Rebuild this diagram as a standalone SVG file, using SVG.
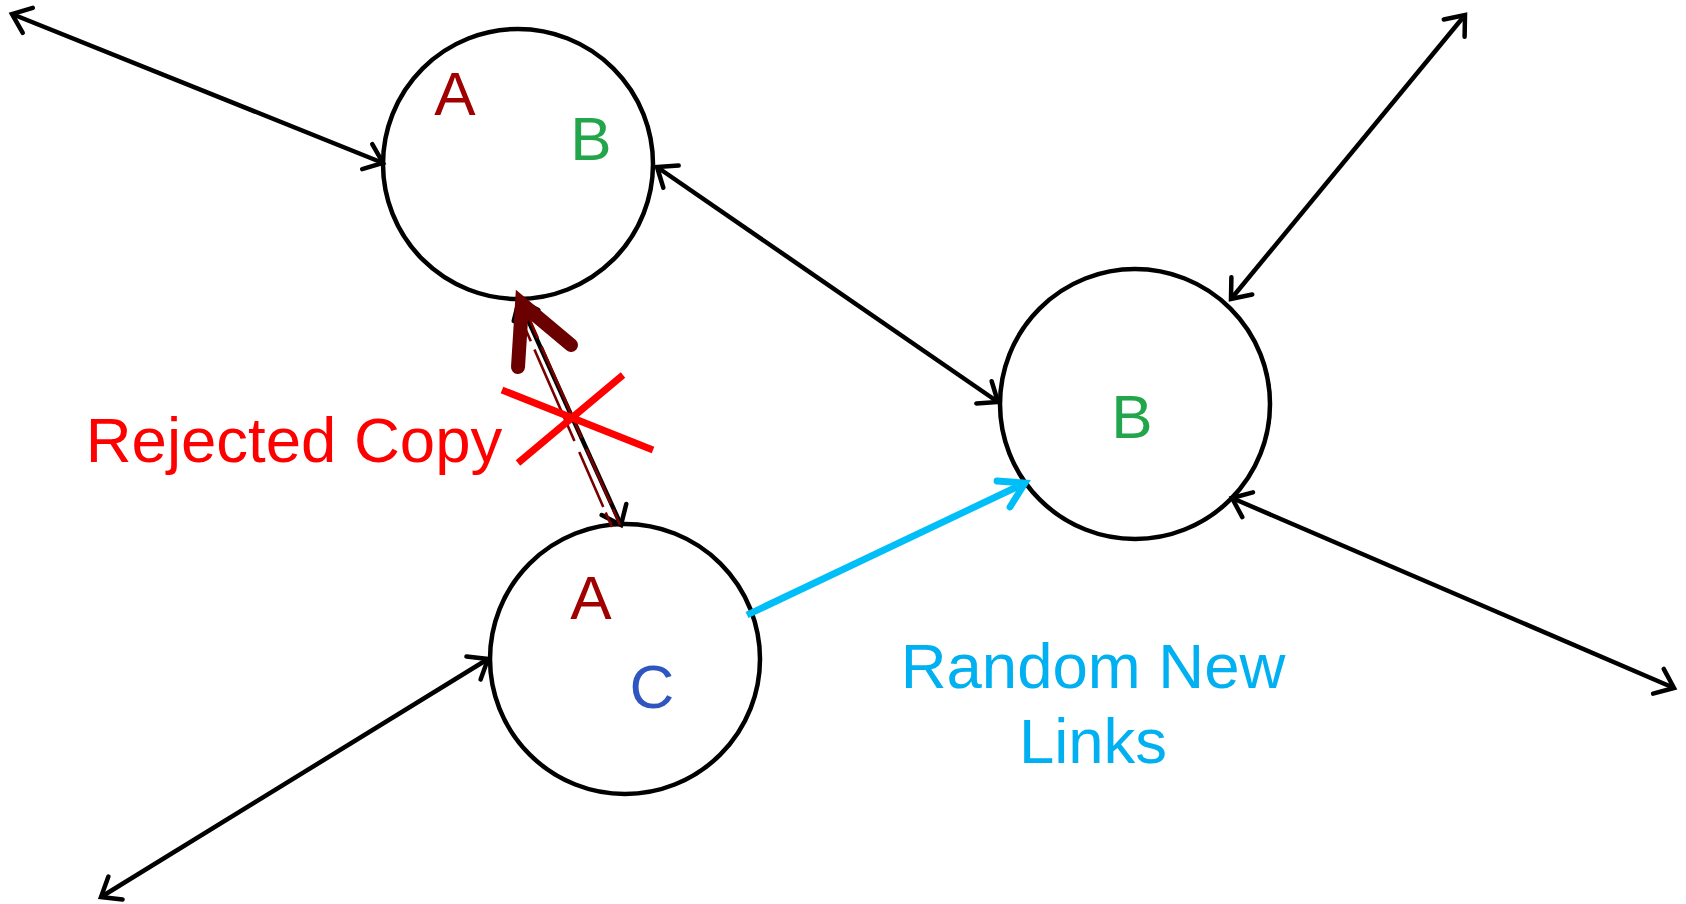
<svg xmlns="http://www.w3.org/2000/svg" width="1686" height="904" viewBox="0 0 1686 904">
<style>
.node{fill:#fff;stroke:#000;stroke-width:4.5}
.lbl{font-family:"Liberation Sans",Arial,sans-serif;font-size:62px;text-anchor:middle}
.big{font-size:63.5px}
.link{fill:none;stroke:#000;stroke-width:4.5;marker-start:url(#ah);marker-end:url(#ah)}
.rd{stroke:#7A0000;stroke-width:2.6;fill:none;stroke-dasharray:22 9 100 12 60 6}
.a{fill:#A00000}.b{fill:#23A64B}.c{fill:#2F55C0}
</style>
<defs>
<marker id="ah" markerUnits="userSpaceOnUse" markerWidth="40" markerHeight="40" viewBox="-25 -20 30 40" refX="0" refY="0" orient="auto-start-reverse" overflow="visible">
<path d="M-17,-13.5 L0,0 L-17,13.5" fill="none" stroke="#000" stroke-width="4.5" stroke-linecap="round" stroke-linejoin="miter"/>
</marker>
</defs>
<rect width="1686" height="904" fill="#fff"/>
<g id="n1"><circle class="node" cx="518" cy="164" r="135"/><text class="lbl a" x="455" y="115">A</text><text class="lbl b" x="591" y="160">B</text></g>
<g id="n2"><circle class="node" cx="1135" cy="404" r="135"/><text class="lbl b" x="1132" y="438">B</text></g>
<g id="n3"><circle class="node" cx="625" cy="659" r="135"/><text class="lbl a" x="591" y="619">A</text><text class="lbl c" x="652" y="708">C</text></g>
<g id="connectors">
<line class="link" x1="12" y1="14" x2="383" y2="163"/>
<line class="link" x1="1465" y1="15" x2="1231" y2="299"/>
<line class="link" x1="657" y1="167" x2="998" y2="402"/>
<line class="link" x1="101" y1="897" x2="488" y2="659"/>
<line class="link" x1="1232" y1="498" x2="1674" y2="688"/>
<line class="link" x1="519" y1="300" x2="621" y2="525"/>
<line class="rd" x1="529" y1="318" x2="620" y2="525"/>
<line class="rd" x1="522" y1="321" x2="612" y2="527"/>
<path d="M571,345 L522,304 L518,367" fill="none" stroke="#6B0000" stroke-width="14" stroke-linecap="round" stroke-linejoin="miter"/>
<path d="M502,390 L653,450 M518,463 L623,375" stroke="#FF0000" stroke-width="7"/>
<line x1="747" y1="615" x2="1023" y2="484" stroke="#00BFF8" stroke-width="6.8"/>
<path d="M997,481 L1025,483 L1010,507" fill="none" stroke="#00BFF8" stroke-width="6.8" stroke-linecap="round" stroke-linejoin="miter"/>
</g>
<text class="lbl big" x="294" y="462" fill="#FF0000">Rejected Copy</text>
<text class="lbl big" x="1093" y="688" fill="#00B0F0">Random New</text>
<text class="lbl big" x="1093" y="763" fill="#00B0F0">Links</text>
</svg>
